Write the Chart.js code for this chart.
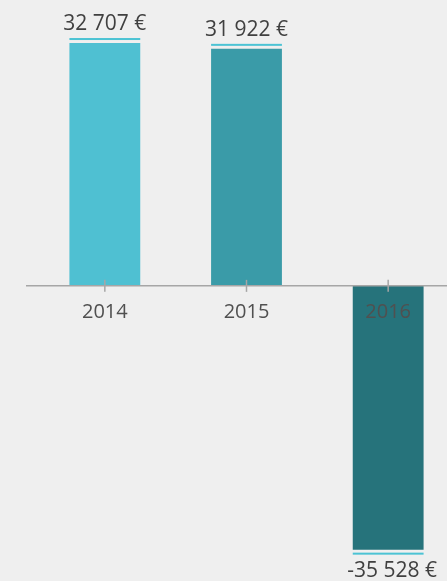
<!DOCTYPE html>
<html>
<head>
<meta charset="utf-8">
<script src="https://cdn.jsdelivr.net/npm/chart.js"></script>
<style>
  body { margin: 0; background: #efefef; overflow: hidden; }
  #wrap { width: 460px; height: 581px; }
</style>
</head>
<body>
<div id="wrap"><canvas id="chart" width="460" height="581"></canvas></div>
<script>
// ── data ──
const years = ['2014', '2015', '2016'];
const values = [32707, 31922, -35528];
const barColors = ['#4fc0d2', '#3a9ba8', '#26737b'];

const fmt = v => (v < 0 ? '-' : '') + Math.abs(v).toString().replace(/\B(?=(\d{3})+(?!\d))/g, ' ') + ' €';

// ── decorations: zero line, ticks, year labels, value labels ──
const decorations = {
  id: 'decorations',
  beforeDraw(chart) {
    const c = chart.ctx;
    c.save();
    c.fillStyle = '#efefef';
    c.fillRect(0, 0, chart.width, chart.height);
    c.restore();
  },
  afterDatasetsDraw(chart) {
    const c = chart.ctx;
    const y0 = chart.scales.y.getPixelForValue(0);
    const meta = chart.getDatasetMeta(0);
    c.save();
    c.strokeStyle = '#a6a6a6';
    c.lineWidth = 1.5;
    c.beginPath();
    c.moveTo(26, y0);
    c.lineTo(chart.width, y0);
    c.stroke();

    meta.data.forEach((bar, i) => {
      c.beginPath();
      c.moveTo(bar.x, y0 - 6);
      c.lineTo(bar.x, y0 + 6);
      c.stroke();

      c.fillStyle = '#505050';
      c.font = '20px "Open Sans"';
      c.textAlign = 'center';
      c.textBaseline = 'middle';
      c.fillText(years[i], bar.x, y0 + 26);

      const w = bar.width;
      c.font = '21px "Open Sans"';
      c.fillStyle = '#4cc3d4';
      if (values[i] >= 0) {
        c.fillRect(bar.x - w / 2, bar.y - 5, w, 2);
        c.fillStyle = '#404040';
        c.fillText(fmt(values[i]), bar.x, bar.y - 19);
      } else {
        c.fillRect(bar.x - w / 2, bar.y + 3, w, 2);
        c.fillStyle = '#404040';
        c.fillText(fmt(values[i]), bar.x + 4, bar.y + 21);
      }
    });
    c.restore();
  }
};

new Chart(document.getElementById('chart'), {
  type: 'bar',
  data: {
    labels: years,
    datasets: [{
      data: values,
      backgroundColor: barColors,
      borderWidth: 0,
      barPercentage: 0.5,
      categoryPercentage: 1
    }]
  },
  options: {
    responsive: false,
    animation: false,
    layout: { padding: { left: 34, right: 1, top: 26, bottom: 13 } },
    plugins: { legend: { display: false }, tooltip: { enabled: false } },
    scales: {
      x: { display: false },
      y: { display: false, min: -38000, max: 35000 }
    }
  },
  plugins: [decorations]
});
</script>
</body>
</html>
